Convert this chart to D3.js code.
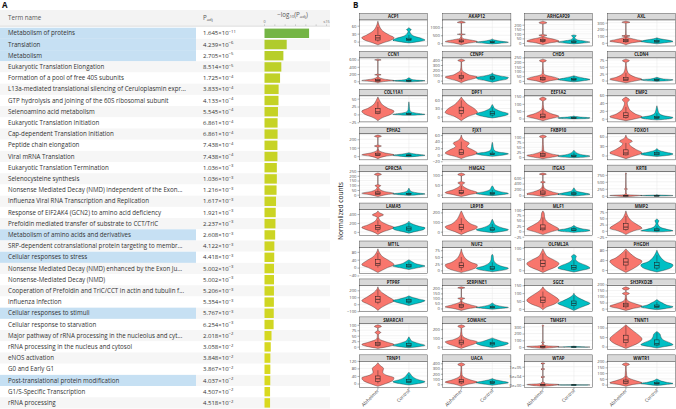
<!DOCTYPE html>
<html>
<head>
<meta charset="utf-8">
<script src="https://cdn.jsdelivr.net/npm/d3@7"></script>
<style>
  body { margin: 0; background: #fff; }
  svg { display: block; font-family: "Open Sans", sans-serif; }
</style>
</head>
<body>
<svg id="fig" width="676" height="409"></svg>
<script>
// ---- panel A data: enriched Reactome terms ----
const terms = [
  "Metabolism of proteins", "Translation", "Metabolism",
  "Eukaryotic Translation Elongation", "Formation of a pool of free 40S subunits",
  "L13a-mediated translational silencing of Ceruloplasmin expr...",
  "GTP hydrolysis and joining of the 60S ribosomal subunit",
  "Selenoamino acid metabolism", "Eukaryotic Translation Initiation",
  "Cap-dependent Translation Initiation", "Peptide chain elongation",
  "Viral mRNA Translation", "Eukaryotic Translation Termination",
  "Selenocysteine synthesis",
  "Nonsense Mediated Decay (NMD) independent of the Exon...",
  "Influenza Viral RNA Transcription and Replication",
  "Response of EIF2AK4 (GCN2) to amino acid deficiency",
  "Prefoldin mediated transfer of substrate to CCT/TriC",
  "Metabolism of amino acids and derivatives",
  "SRP-dependent cotranslational protein targeting to membr...",
  "Cellular responses to stress",
  "Nonsense Mediated Decay (NMD) enhanced by the Exon Ju...",
  "Nonsense-Mediated Decay (NMD)",
  "Cooperation of Prefoldin and TriC/CCT in actin and tubulin f...",
  "Influenza Infection", "Cellular responses to stimuli",
  "Cellular response to starvation",
  "Major pathway of rRNA processing in the nucleolus and cyt...",
  "rRNA processing in the nucleus and cytosol", "eNOS activation",
  "G0 and Early G1", "Post-translational protein modification",
  "G1/S-Specific Transcription", "rRNA processing"
];
const pAdj = [
  1.645e-11, 4.239e-6, 2.705e-5, 8.514e-5, 1.725e-4, 3.833e-4, 4.133e-4,
  5.545e-4, 6.861e-4, 6.861e-4, 7.438e-4, 7.438e-4, 1.036e-3, 1.036e-3,
  1.216e-3, 1.617e-3, 1.921e-3, 2.237e-3, 2.608e-3, 4.122e-3, 4.418e-3,
  5.002e-3, 5.002e-3, 5.206e-3, 5.354e-3, 5.767e-3, 6.254e-3, 2.018e-2,
  3.058e-2, 3.848e-2, 3.867e-2, 4.037e-2, 4.507e-2, 4.518e-2
];
const highlighted = [0, 1, 2, 18, 20, 25, 31];
const barMax = 15;

// ---- panel B data: normalized counts per gene ----
const groups = ["Alzheimer", "Control"];
const groupColors = ["#F8766D", "#00BFC4"];
const genes = [
  "ACP1", "AKAP12", "ARHGAP29", "AXL",
  "CCN1", "CENPF", "CHD5", "CLDN4",
  "COL11A1", "DPF1", "EEF1A2", "EMP2",
  "EPHA2", "FJX1", "FKBP10", "FOXO1",
  "GPRC5A", "HMGA2", "ITGA3", "KRT8",
  "LAMA5", "LRP1B", "MLF1", "MMP2",
  "MT1L", "NUF2", "OLFML2A", "PHGDH",
  "PTPRF", "SERPINE1", "SGCE", "SH3PXD2B",
  "SMARCA1", "SOWAHC", "TM4SF1", "TNNT1",
  "TRNP1", "UACA", "WTAP", "WWTR1"
];
const yTicks = [
  [0, 30, 60], [0, 500, 1000], [0, 50, 100, 150, 200], [0, 100, 200, 300],
  [0, 200, 400, 600], [0, 100, 200, 300, 400], [0, 50, 100, 150, 200, 250], [0, 25, 50, 75],
  [-25, 0, 25, 50], [0, 30, 60], [0, 50, 100, 150], [0, 20, 40, 60],
  [0, 100, 200], [-20, 0, 20, 40, 60], [0, 25, 50, 75, 100], [0, 30, 60],
  [0, 50, 100, 150, 200, 250], [0, 50, 100], [0, 200, 400, 600], [0, 250, 500, 750],
  [0, 200, 400], [0, 100, 200], [-25, 0, 25, 50, 75, 100], [-25, 0, 25, 50, 75],
  [-40, 0, 40, 80], [0, 25, 50, 75], [0, 50, 100], [0, 40, 80],
  [-100, 0, 100, 200], [0, 50, 100, 150, 200], [0, 50, 100, 150], [0, 50, 100, 150, 200],
  [0, 25, 50, 75, 100], [0, 100, 200], [0, 100, 200, 300], [0, 50, 100],
  [0, 40, 80, 120], [0, 100, 200, 300, 400], [0, 50000, 100000], [0, 50, 100, 150, 200]
];
// violin outlines: [value, relative half width]
const violinAlz = [
  [[-12,0],[-5,0.3],[5,0.8],[15,1],[25,0.7],[40,0.3],[55,0.12],[70,0.03],[77,0]],
  [[-100,0],[0,0.4],[100,1],[200,0.6],[300,0.1],[420,0.03],[520,0.02],[560,0.25],[600,0.02],[1250,0.01],[1300,0.25],[1380,0]],
  [[-20,0],[0,0.4],[20,1],[40,0.7],[60,0.2],[72,0.05],[84,0.25],[95,0.02],[205,0.01],[220,0.25],[238,0]],
  [[-30,0],[0,0.4],[25,1],[50,0.6],[80,0.1],[90,0.03],[103,0.25],[115,0.02],[290,0.01],[305,0.25],[322,0]],
  [[-40,0],[0,0.5],[20,1],[60,0.4],[120,0.05],[160,0.02],[180,0.2],[200,0.01],[570,0.01],[590,0.2],[612,0]],
  [[-40,0],[0,0.3],[40,0.8],[70,1],[110,0.5],[150,0.25],[200,0.05],[300,0.02],[360,0.02],[385,0.22],[412,0]],
  [[-20,0],[0,0.4],[20,1],[40,0.7],[60,0.2],[80,0.05],[195,0.01],[215,0.22],[232,0]],
  [[-8,0],[0,0.7],[5,1],[12,0.6],[20,0.3],[30,0.12],[45,0.05],[65,0.02],[72,0.22],[78,0]],
  [[-20,0],[-10,0.3],[0,0.8],[10,1],[20,0.6],[30,0.3],[45,0.1],[55,0]],
  [[-15,0],[0,0.4],[15,1],[30,0.8],[45,0.4],[60,0.15],[72,0]],
  [[-15,0],[0,0.5],[15,1],[30,0.6],[50,0.2],[70,0.05],[118,0.02],[133,0.22],[146,0]],
  [[-5,0],[0,0.6],[5,1],[12,0.6],[20,0.3],[30,0.15],[40,0.08],[48,0.22],[55,0]],
  [[-30,0],[0,0.5],[15,1],[40,0.4],[70,0.05],[105,0.02],[120,0.22],[135,0.01],[220,0.01],[235,0.22],[250,0]],
  [[-12,0],[-5,0.4],[0,0.8],[5,1],[15,0.7],[25,0.35],[35,0.5],[45,0.15],[60,0]],
  [[-8,0],[0,0.6],[8,1],[15,0.6],[25,0.2],[35,0.05],[95,0.02],[104,0.22],[112,0]],
  [[-10,0],[0,0.6],[8,1],[20,0.6],[30,0.3],[38,0.2],[45,0.4],[55,0.1],[65,0]],
  [[-20,0],[0,0.5],[15,1],[35,0.4],[60,0.1],[80,0.05],[95,0.18],[110,0.01],[200,0.01],[215,0.22],[230,0]],
  [[-10,0],[0,0.5],[10,1],[25,0.5],[40,0.15],[50,0.05],[60,0.22],[68,0.01],[94,0.01],[102,0.22],[110,0]],
  [[-40,0],[0,0.4],[50,1],[120,0.6],[200,0.2],[300,0.05],[420,0.02],[450,0.15],[490,0.01],[690,0.01],[720,0.22],[760,0]],
  [[-30,0],[0,0.8],[10,1],[40,0.1],[100,0.02],[215,0.02],[240,0.1],[265,0.02],[780,0.01],[800,0.05],[815,0]],
  [[-60,0],[0,0.3],[60,0.8],[100,1],[160,0.6],[250,0.15],[330,0.05],[380,0.35],[430,0.1],[470,0]],
  [[-30,0],[0,0.4],[30,0.9],[50,1],[80,0.6],[120,0.3],[160,0.15],[200,0.05],[215,0]],
  [[-15,0],[0,0.6],[10,1],[25,0.7],[40,0.35],[55,0.15],[70,0.1],[85,0.08],[95,0]],
  [[-15,0],[0,0.5],[10,1],[25,0.7],[40,0.35],[55,0.15],[70,0.05],[80,0]],
  [[-25,0],[0,0.6],[15,1],[35,0.7],[55,0.3],[75,0.1],[95,0]],
  [[-8,0],[0,0.5],[10,0.9],[20,1],[30,0.6],[45,0.25],[60,0.1],[80,0]],
  [[-10,0],[0,0.3],[15,0.8],[30,1],[45,0.7],[60,0.3],[80,0.1],[95,0]],
  [[-10,0],[0,0.3],[20,0.8],[35,1],[50,0.6],[65,0.3],[85,0]],
  [[-90,0],[-50,0.2],[0,0.6],[50,1],[100,0.7],[160,0.3],[220,0.05],[250,0]],
  [[-20,0],[0,0.5],[15,1],[35,0.6],[55,0.2],[70,0.05],[88,0.03],[100,0.22],[110,0.01],[195,0.01],[205,0.22],[215,0]],
  [[-5,0],[10,0.2],[30,0.7],[55,1],[75,0.8],[95,0.5],[120,0.15],[140,0]],
  [[-15,0],[0,0.4],[20,1],[40,0.6],[60,0.2],[80,0.05],[110,0.03],[125,0.22],[140,0.01],[150,0.01],[165,0.22],[180,0]],
  [[-8,0],[0,0.6],[10,1],[20,0.6],[30,0.2],[40,0.05],[55,0.03],[65,0.18],[75,0.01],[85,0.01],[92,0.22],[100,0]],
  [[-20,0],[0,0.3],[30,0.8],[55,1],[80,0.5],[110,0.15],[140,0.05],[210,0.02],[232,0.22],[250,0]],
  [[-20,0],[0,0.9],[8,1],[20,0.2],[40,0.03],[60,0.02],[70,0.1],[80,0.01],[300,0.01],[315,0.05],[330,0]],
  [[-10,0],[0,0.3],[20,0.8],[40,1],[60,0.8],[80,0.5],[100,0.2],[115,0]],
  [[-15,0],[0,0.5],[15,0.9],[30,1],[45,0.5],[60,0.3],[80,0.35],[95,0.15],[110,0]],
  [[-40,0],[0,0.4],[40,1],[80,0.6],[130,0.2],[180,0.05],[340,0.02],[375,0.22],[410,0]],
  [[-8000,0],[0,0.9],[2000,1],[8000,0.1],[12000,0.12],[16000,0.01],[40000,0.01],[44000,0.12],[48000,0.01],[83000,0.01],[87000,0.12],[91000,0.01],[114000,0.01],[118000,0.12],[122000,0]],
  [[-15,0],[0,0.4],[15,1],[35,0.6],[55,0.2],[80,0.05],[160,0.02],[175,0.22],[190,0]]
];
const violinCtl = [
  [[-5,0],[0,0.6],[6,1],[12,0.8],[20,0.35],[30,0.12],[40,0.05],[45,0.15],[50,0.03],[53,0]],
  [[-50,0],[0,0.5],[60,1],[120,0.6],[200,0.15],[250,0.02],[280,0]],
  [[-10,0],[0,0.6],[10,1],[20,0.7],[35,0.2],[60,0.05],[80,0.15],[88,0]],
  [[-15,0],[0,0.5],[20,1],[40,0.7],[60,0.2],[75,0]],
  [[-20,0],[0,0.7],[15,1],[40,0.3],[70,0.1],[90,0.05],[100,0]],
  [[-30,0],[0,0.4],[30,0.9],[60,1],[90,0.5],[130,0.05],[150,0]],
  [[-10,0],[0,0.5],[15,1],[30,0.6],[45,0.2],[55,0]],
  [[-3,0],[0,0.8],[3,1],[6,0.4],[10,0.1],[12,0]],
  [[-3,0],[0,1],[3,0.6],[8,0.15],[15,0.05],[25,0.03],[35,0.02],[40,0]],
  [[-5,0],[0,0.5],[10,1],[20,0.5],[30,0.15],[40,0.05],[45,0]],
  [[-3,0],[0,0.9],[5,1],[10,0.4],[15,0.05],[18,0]],
  [[-3,0],[0,0.8],[3,1],[8,0.4],[15,0.12],[25,0.05],[33,0]],
  [[-10,0],[0,0.6],[10,1],[25,0.4],[40,0]],
  [[-5,0],[0,0.8],[3,1],[8,0.4],[15,0.1],[25,0.05],[35,0.02],[38,0]],
  [[-3,0],[0,0.7],[5,1],[12,0.5],[20,0.2],[30,0.05],[35,0]],
  [[-3,0],[0,0.6],[5,1],[10,0.6],[15,0.2],[22,0]],
  [[-8,0],[0,0.6],[8,1],[20,0.5],[40,0.1],[60,0.03],[70,0]],
  [[-5,0],[0,0.6],[6,1],[15,0.5],[25,0.15],[40,0.05],[45,0]],
  [[-20,0],[0,0.4],[40,1],[80,0.7],[150,0.15],[220,0.05],[260,0]],
  [[-10,0],[0,0.9],[10,1],[30,0.1],[50,0]],
  [[-30,0],[0,0.3],[50,0.9],[90,1],[130,0.6],[200,0.1],[240,0]],
  [[-10,0],[0,0.5],[20,1],[40,0.6],[70,0.2],[100,0.08],[120,0.03],[130,0]],
  [[-5,0],[0,0.8],[5,1],[12,0.5],[20,0.15],[28,0]],
  [[-5,0],[0,1],[5,0.7],[12,0.3],[20,0.12],[30,0.06],[40,0.12],[48,0]],
  [[-10,0],[0,0.6],[8,1],[18,0.5],[30,0.2],[40,0]],
  [[-5,0],[0,0.6],[8,1],[15,0.6],[25,0.25],[40,0.08],[55,0.05],[60,0]],
  [[-8,0],[0,0.5],[10,1],[20,0.8],[35,0.3],[50,0.1],[62,0.15],[70,0]],
  [[-8,0],[0,0.5],[10,0.9],[20,1],[35,0.5],[50,0.25],[65,0.1],[80,0]],
  [[-20,0],[0,0.3],[30,0.8],[50,1],[75,0.6],[100,0.2],[120,0]],
  [[-8,0],[0,0.5],[10,1],[20,0.6],[35,0.2],[50,0.05],[55,0]],
  [[-10,0],[0,0.2],[20,0.7],[35,1],[50,0.7],[70,0.3],[90,0.05],[100,0]],
  [[-8,0],[0,0.5],[15,1],[30,0.6],[50,0.3],[65,0.1],[75,0]],
  [[-5,0],[0,0.6],[6,1],[15,0.6],[25,0.2],[35,0.08],[45,0]],
  [[-10,0],[0,0.3],[20,0.8],[40,1],[60,0.6],[85,0.2],[100,0]],
  [[-5,0],[0,1],[5,0.5],[12,0.05],[15,0]],
  [[-8,0],[0,0.5],[10,1],[20,0.8],[35,0.4],[50,0.25],[65,0.2],[80,0]],
  [[-8,0],[0,0.6],[10,1],[20,0.6],[35,0.25],[50,0.1],[60,0]],
  [[-20,0],[0,0.4],[30,1],[60,0.6],[90,0.15],[110,0]],
  [[-2000,0],[0,1],[1000,0.5],[2500,0]],
  [[-8,0],[0,0.5],[10,1],[20,0.6],[35,0.2],[50,0]]
];
// box plots: [lower whisker, q1, median, q3, upper whisker]
const boxAlz = [
  [0,6,14,24,55],[0,80,130,200,350],[0,15,25,40,70],[0,15,30,50,90],
  [0,5,20,50,110],[0,45,70,100,160],[0,10,20,35,60],[0,0,5,12,28],
  [0,3,8,18,40],[0,12,22,35,60],[0,5,15,30,70],[0,3,8,15,30],
  [0,5,15,35,80],[0,1,6,15,40],[0,4,10,17,35],[0,2,8,18,40],
  [0,5,15,30,60],[0,5,10,20,45],[0,40,80,150,300],[0,0,5,15,40],
  [0,50,95,140,260],[0,25,45,75,140],[0,7,15,30,65],[0,5,15,30,60],
  [0,10,20,40,75],[0,10,18,28,50],[0,18,30,45,75],[0,20,32,45,75],
  [0,30,70,110,210],[0,10,25,40,75],[10,40,55,75,110],[0,15,30,45,85],
  [0,5,12,20,38],[0,30,50,75,130],[0,0,3,10,25],[0,20,35,60,110],
  [0,12,25,40,70],[0,25,55,90,170],[0,200,800,2000,5000],[0,10,25,40,75]
];
const boxCtl = [
  [0,4,8,13,25],[0,30,60,100,200],[0,5,12,22,45],[0,10,22,35,65],
  [0,5,12,30,70],[0,30,50,75,120],[0,8,15,28,50],[0,0,2,5,10],
  [0,0,1,3,7],[0,6,12,20,35],[0,1,3,6,12],[0,1,3,6,14],
  [0,3,8,15,30],[0,0,2,5,12],[0,2,5,10,22],[0,2,5,9,18],
  [0,3,8,15,35],[0,2,6,12,25],[0,30,55,90,160],[0,2,6,12,25],
  [0,40,70,110,200],[0,10,25,40,80],[0,3,6,12,22],[0,0,3,8,18],
  [0,3,8,15,30],[0,4,8,15,30],[0,5,12,22,45],[0,8,18,30,60],
  [0,30,45,65,100],[0,5,12,20,38],[0,20,35,50,85],[0,8,18,30,55],
  [0,2,6,14,30],[0,20,35,50,85],[0,0,2,4,8],[0,8,15,35,75],
  [0,5,12,22,45],[0,15,30,50,90],[0,100,300,700,1500],[0,5,10,18,35]
];

const svg = d3.select("#fig");

// ================= Panel A =================
const A = svg.append("g");
const tableW = 330, row0 = 27.7, rowH = 11.2, nameW = 196;
const textCol = "#333";

A.append("text").attr("x", 2).attr("y", 7.5).text("A")
  .style("font-size", "8px").style("font-weight", "bold").attr("fill", "#111");

A.append("rect").attr("x", 0).attr("y", 10).attr("width", tableW).attr("height", 16)
  .attr("fill", "#f3f3f3");
A.append("line").attr("x1", 0).attr("x2", tableW).attr("y1", 26.2).attr("y2", 26.2)
  .attr("stroke", "#c8c8c8").attr("stroke-width", 0.6);
A.append("text").attr("x", 8).attr("y", 19.5).text("Term name")
  .style("font-size", "6.2px").attr("fill", "#555");
const ph = A.append("text").attr("x", 203).attr("y", 19.5).style("font-size", "6.2px").attr("fill", "#555");
ph.append("tspan").text("P");
ph.append("tspan").text("adj").attr("dy", 1.5).style("font-size", "4.3px");

const bx = d3.scaleLinear().domain([0, barMax]).range([264.5, 326.5]);
const lh = A.append("text").attr("x", bx(barMax / 2) - 3).attr("y", 16.5)
  .attr("text-anchor", "middle").style("font-size", "6.2px").attr("fill", "#555");
lh.append("tspan").text("\u2212log");
lh.append("tspan").text("10").attr("dy", 1.5).style("font-size", "4.3px");
lh.append("tspan").text("(P").attr("dy", -1.5);
lh.append("tspan").text("adj").attr("dy", 1.5).style("font-size", "4.3px");
lh.append("tspan").text(")").attr("dy", -1.5);
A.append("text").attr("x", bx(0)).attr("y", 22.5).text("0")
  .style("font-size", "3.8px").attr("fill", "#666").attr("text-anchor", "middle");
A.append("text").attr("x", bx(barMax)).attr("y", 22.5).text("\u226415")
  .style("font-size", "3.8px").attr("fill", "#666").attr("text-anchor", "middle");
A.append("g").selectAll("line").data(d3.range(0, barMax + 0.1, 2.5)).join("line")
  .attr("x1", d => bx(d)).attr("x2", d => bx(d)).attr("y1", 24.3).attr("y2", 26)
  .attr("stroke", "#999").attr("stroke-width", 0.4);

const barColor = d3.scaleLinear().domain([1.3, 5.4, 10.8])
  .range(["#d9d91f", "#b0cb2c", "#74b545"]);

const rows = A.selectAll("g.row").data(terms).join("g").attr("class", "row")
  .attr("transform", (d, i) => `translate(0,${row0 + i * rowH})`);
rows.append("rect").attr("width", tableW).attr("height", rowH)
  .attr("fill", (d, i) => i % 2 ? "#f6f6f6" : "#fff");
rows.filter((d, i) => highlighted.includes(i)).append("rect")
  .attr("width", nameW).attr("height", rowH).attr("fill", "#c6e0f3");
rows.append("text").attr("x", 8).attr("y", rowH / 2 + 2.2).text(d => d)
  .style("font-size", "6.2px").attr("fill", textCol);

rows.each(function (d, i) {
  const p = pAdj[i];
  const [m, e] = p.toExponential(3).split("e");
  const t = d3.select(this).append("text").attr("x", 203).attr("y", rowH / 2 + 2.2)
    .style("font-size", "6px").attr("fill", textCol);
  t.append("tspan").text(m + "\u00d710");
  t.append("tspan").text(e.replace("-", "\u2212")).attr("dy", -2.4).style("font-size", "4.2px");
  const v = -Math.log10(p);
  d3.select(this).append("rect").attr("x", bx(0)).attr("y", 0.9)
    .attr("width", bx(Math.min(v, barMax)) - bx(0)).attr("height", rowH - 1.8)
    .attr("fill", barColor(v));
});

// ================= Panel B =================
const B = svg.append("g");
const colX = [359.3, 442.7, 524.3, 607.3], pW = 68.2;
const rTop = 13.3, pitch = 37.95, stripH = 6.7, bodyH = 26;

B.append("text").attr("x", 353).attr("y", 8).text("B")
  .style("font-size", "8px").style("font-weight", "bold").attr("fill", "#111");
B.append("text").attr("transform", "translate(343,211) rotate(-90)")
  .attr("text-anchor", "middle").text("Normalized counts")
  .style("font-size", "6.6px").attr("fill", "#1a1a1a");

const x = d3.scalePoint().domain(groups).range([0, pW]).padding(0.6);
const halfW = x.step() * 0.52;
const sci = v => v === 0 ? "0e+00" : v.toExponential(0).replace(/e([+-])(\d)$/, "e$10$2");

genes.forEach((gene, i) => {
  const c = i % 4, r = Math.floor(i / 4);
  const g = B.append("g").attr("transform", `translate(${colX[c]},${rTop + r * pitch})`);

  g.append("rect").attr("width", pW).attr("height", stripH)
    .attr("fill", "#d9d9d9").attr("stroke", "#333").attr("stroke-width", 0.4);
  g.append("text").attr("x", pW / 2).attr("y", stripH / 2 + 1.5).attr("text-anchor", "middle")
    .text(gene).style("font-size", "4.3px").style("font-weight", "bold").attr("fill", "#1a1a1a");

  const body = g.append("g").attr("transform", `translate(0,${stripH})`);
  const vals = violinAlz[i].concat(violinCtl[i]).map(d => d[0]);
  const lo = d3.min(vals), hi = d3.max(vals), pad = (hi - lo) * 0.05;
  const y = d3.scaleLinear().domain([lo - pad, hi + pad]).range([bodyH, 0]);
  const [d0, d1] = y.domain();

  body.append("rect").attr("width", pW).attr("height", bodyH).attr("fill", "#fff");
  const tk = yTicks[i], step = tk[1] - tk[0];
  const minor = tk.map(v => v - step / 2).concat([tk[tk.length - 1] + step / 2])
    .filter(v => v > d0 && v < d1);
  body.selectAll("line.minor").data(minor).join("line")
    .attr("x1", 0).attr("x2", pW).attr("y1", d => y(d)).attr("y2", d => y(d))
    .attr("stroke", "#f2f2f2").attr("stroke-width", 0.35);
  body.selectAll("line.major").data(tk).join("line")
    .attr("x1", 0).attr("x2", pW).attr("y1", d => y(d)).attr("y2", d => y(d))
    .attr("stroke", "#e6e6e6").attr("stroke-width", 0.5);
  body.selectAll("line.vg").data(groups).join("line")
    .attr("x1", d => x(d)).attr("x2", d => x(d)).attr("y1", 0).attr("y2", bodyH)
    .attr("stroke", "#e6e6e6").attr("stroke-width", 0.5);

  [[violinAlz[i], boxAlz[i], 0], [violinCtl[i], boxCtl[i], 1]].forEach(([prof, bxp, k]) => {
    const cx = x(groups[k]);
    const area = d3.area().curve(d3.curveMonotoneY)
      .y(d => y(d[0])).x0(d => cx - d[1] * halfW).x1(d => cx + d[1] * halfW);
    body.append("path").attr("d", area(prof)).attr("fill", groupColors[k])
      .attr("stroke", "#1a1a1a").attr("stroke-width", 0.35);
    const [wl, q1, md, q3, wh] = bxp;
    body.append("line").attr("x1", cx).attr("x2", cx).attr("y1", y(wl)).attr("y2", y(q1))
      .attr("stroke", "#1a1a1a").attr("stroke-width", 0.4);
    body.append("line").attr("x1", cx).attr("x2", cx).attr("y1", y(q3)).attr("y2", y(wh))
      .attr("stroke", "#1a1a1a").attr("stroke-width", 0.4);
    body.append("rect").attr("x", cx - 2.2).attr("width", 4.4)
      .attr("y", y(q3)).attr("height", Math.max(0.8, y(q1) - y(q3)))
      .attr("fill", groupColors[k]).attr("stroke", "#1a1a1a").attr("stroke-width", 0.5);
    body.append("line").attr("x1", cx - 2.2).attr("x2", cx + 2.2).attr("y1", y(md)).attr("y2", y(md))
      .attr("stroke", "#1a1a1a").attr("stroke-width", 0.7);
  });

  body.append("rect").attr("width", pW).attr("height", bodyH).attr("fill", "none")
    .attr("stroke", "#333").attr("stroke-width", 0.45);

  const ax = body.append("g").call(d3.axisLeft(y).tickValues(tk).tickSize(1.8).tickPadding(1)
    .tickFormat(hi > 50000 ? sci : d3.format("d")));
  ax.select(".domain").remove();
  ax.selectAll("line").attr("stroke", "#333").attr("stroke-width", 0.4);
  ax.selectAll("text").style("font-size", "4.2px").attr("fill", "#4d4d4d")
    .style("font-family", "'Open Sans', sans-serif");

  if (r === 9) {
    groups.forEach(gr => {
      body.append("line").attr("x1", x(gr)).attr("x2", x(gr)).attr("y1", bodyH).attr("y2", bodyH + 1.8)
        .attr("stroke", "#333").attr("stroke-width", 0.4);
      body.append("text").attr("transform", `translate(${x(gr) + 1.5},${bodyH + 3.5}) rotate(-45)`)
        .attr("text-anchor", "end").text(gr).style("font-size", "4.8px").attr("fill", "#4d4d4d");
    });
  }
});
</script>
</body>
</html>
